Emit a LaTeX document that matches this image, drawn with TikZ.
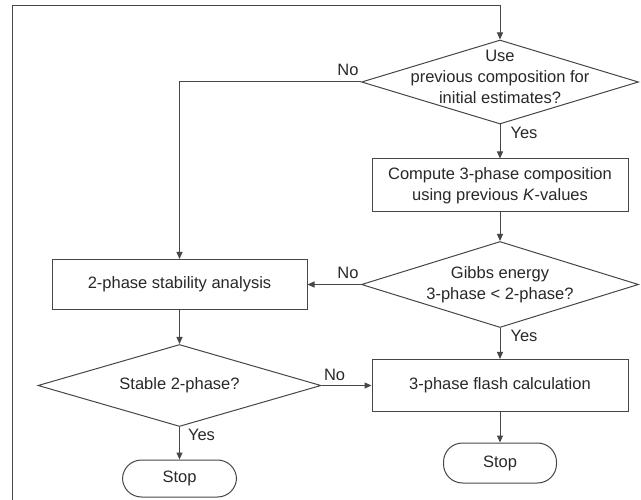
\documentclass[tikz,border=0pt]{standalone}
\usepackage{fontspec}
\setmainfont{Liberation Sans}
\usepackage{tikz}
\usetikzlibrary{shapes.geometric, arrows.meta, positioning, calc}
\definecolor{mydark}{RGB}{40,40,40}
\definecolor{myline}{RGB}{70,70,70}
\newcommand{\flowfont}{\fontsize{16.5}{21}\selectfont}
\tikzset{
  block/.style={rectangle, draw=myline, fill=white, align=center,
    minimum width=256pt, minimum height=52pt, line width=1pt, font=\flowfont},
  decision/.style={diamond, draw=myline, fill=white,
    minimum width=277pt, minimum height=84pt, inner sep=0pt, line width=1pt},
  stopbox/.style={rectangle, draw=myline, rounded corners=19pt,
    minimum width=114pt, minimum height=39pt, line width=1pt, font=\flowfont},
  arrow/.style={-{Triangle[length=7pt, width=6pt]}, line width=1pt, color=myline},
  answer/.style={font=\flowfont, inner sep=2pt}
}

\begin{document}
\begin{tikzpicture}[x=1pt, y=-1pt, every node/.style={text=mydark}]
  \useasboundingbox (0,0) rectangle (641,500);

  % Right column
  \node[decision] (usePrev) at (500,82) {};
  \node[align=center, font=\flowfont, yshift=5pt] (usePrevText) at (usePrev)
    {Use\\previous composition for\\initial estimates?};
  \node[block, minimum height=53pt] (compute) at (500,185.5)
    {Compute 3-phase composition\\using previous \textit{K}-values};
  \node[decision, minimum height=86pt] (gibbs) at (500,284.5) {};
  \node[align=center, font=\flowfont] (gibbsText) at (gibbs)
    {Gibbs energy\\3-phase < 2-phase?};
  \node[block] (flash) at (500,385.5) {3-phase flash calculation};
  \node[stopbox, minimum width=113pt, minimum height=40pt] (stopRight) at (500,463) {Stop};

  % Left column
  \node[block, minimum width=255pt, minimum height=50pt] (stab) at (179.5,284.5) {2-phase stability analysis};
  \node[decision, minimum width=283pt, minimum height=82pt] (stable) at (179.5,385.5) {};
  \node[font=\flowfont] (stableText) at (stable) {Stable 2-phase?};
  \node[stopbox, minimum height=37pt] (stopLeft) at (179.5,478.5) {Stop};

  % Loop back from below
  \coordinate (loopStart) at (12,500);
  \coordinate (loopTop) at (500,6);
  \draw[arrow] (loopStart) |- (loopTop) -- (usePrev.north);

  % Connectors
  \draw[arrow] (usePrev.west) -| (stab.north)
    node[answer, at start, above left, yshift=4pt] {No};
  \draw[arrow] (usePrev.south) -- (compute.north)
    node[answer, at start, below right, xshift=8pt] {Yes};
  \draw[arrow] (compute.south) -- (gibbs.north);
  \draw[arrow] (gibbs.west) -- (stab.east)
    node[answer, at start, above left, yshift=3pt] {No};
  \draw[arrow] (gibbs.south) -- (flash.north)
    node[answer, at start, below right, xshift=8pt] {Yes};
  \draw[arrow] (flash.south) -- (stopRight.north);
  \draw[arrow] (stab.south) -- (stable.north);
  \draw[arrow] (stable.east) -- (flash.west)
    node[answer, at start, above right, yshift=2pt] {No};
  \draw[arrow] (stable.south) -- (stopLeft.north)
    node[answer, at start, below right, xshift=6pt] {Yes};
\end{tikzpicture}
\end{document}
